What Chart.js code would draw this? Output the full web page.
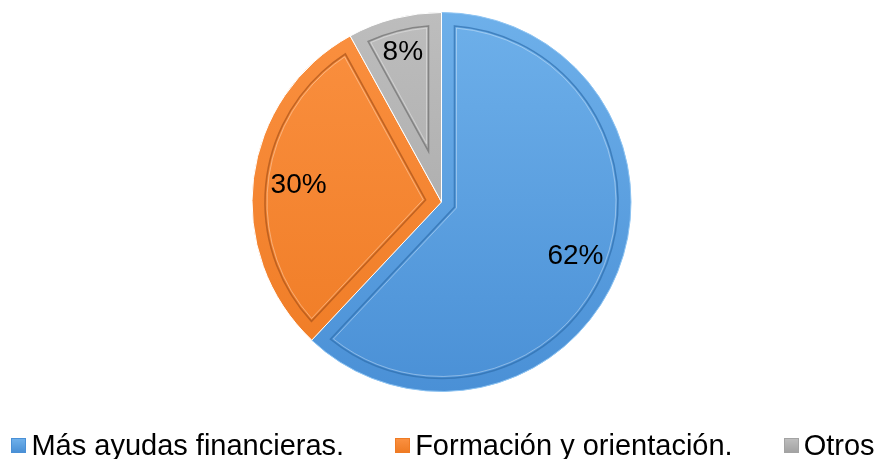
<!DOCTYPE html>
<html>
<head>
<meta charset="utf-8">
<script src="https://cdn.jsdelivr.net/npm/chart.js@4/dist/chart.umd.min.js"></script>
<style>
  html, body { margin: 0; padding: 0; background: #fff; }
  #wrap { position: relative; width: 886px; height: 459px; }
  #legend {
    position: absolute; left: 0; top: 431px; width: 886px;
    display: flex; justify-content: center;
    font-family: "Liberation Sans", Arial, sans-serif; font-size: 29px; line-height: 29px; color: #000;
    white-space: nowrap;
  }
  #legend .item { margin-right: 51px; }
  #legend .item:last-child { margin-right: 0; }
  #legend .box {
    display: inline-block; width: 15px; height: 15px; margin-right: 5px;
    vertical-align: 2px; box-sizing: border-box;
  }
</style>
</head>
<body>
<div id="wrap">
  <canvas id="pieChart" width="886" height="459"></canvas>
  <div id="legend"></div>
</div>
<script>
const labels = ["Más ayudas financieras.", "Formación y orientación.", "Otros"];
const values = [62, 30, 8]; // percentages
const topColors = ["#6eb0ea", "#fa9040", "#bdbdbd"];
const bottomColors = ["#4a90d6", "#ef7b24", "#a3a3a3"];
const edgeColors = ["#2f6fae", "#a9521a", "#6e6e6e"];

// gradient fill for each slice (light top, darker bottom)
function sliceFill(context) {
  const chart = context.chart;
  const area = chart.chartArea;
  if (!area) return topColors[context.dataIndex];
  const g = chart.ctx.createLinearGradient(0, area.top, 0, area.bottom);
  g.addColorStop(0, topColors[context.dataIndex]);
  g.addColorStop(1, bottomColors[context.dataIndex]);
  return g;
}

// inner bevel outline + percentage labels, taken from the arc elements
const bevelPlugin = {
  id: "bevel",
  afterDatasetsDraw(chart) {
    const ctx = chart.ctx;
    const meta = chart.getDatasetMeta(0);
    const d = 13;
    meta.data.forEach((arc, i) => {
      const p = arc.getProps(["x", "y", "startAngle", "endAngle", "outerRadius"], true);
      const theta = p.endAngle - p.startAngle;
      const mid = (p.startAngle + p.endAngle) / 2;
      const r = p.outerRadius - d;
      const delta = Math.asin(d / r);
      const k = d / Math.sin(theta / 2);
      const ax = p.x + Math.cos(mid) * k;
      const ay = p.y + Math.sin(mid) * k;
      ctx.save();
      ctx.beginPath();
      ctx.moveTo(ax, ay);
      ctx.arc(p.x, p.y, r, p.startAngle + delta, p.endAngle - delta);
      ctx.closePath();
      ctx.lineWidth = 1.6;
      ctx.strokeStyle = edgeColors[i];
      ctx.globalAlpha = 0.7;
      ctx.stroke();
      // light highlight just inside
      ctx.beginPath();
      const r2 = r - 2;
      const delta2 = Math.asin((d + 2) / r2);
      const k2 = (d + 2) / Math.sin(theta / 2);
      ctx.moveTo(p.x + Math.cos(mid) * k2, p.y + Math.sin(mid) * k2);
      ctx.arc(p.x, p.y, r2, p.startAngle + delta2, p.endAngle - delta2);
      ctx.closePath();
      ctx.lineWidth = 1;
      ctx.strokeStyle = "rgba(255,255,255,0.35)";
      ctx.globalAlpha = 1;
      ctx.stroke();
      ctx.restore();

      // label
      const frac = values[i] < 10 ? 0.82 : 0.76;
      const lx = p.x + Math.cos(mid) * p.outerRadius * frac;
      const ly = p.y + Math.sin(mid) * p.outerRadius * frac;
      ctx.save();
      ctx.font = '28px "Liberation Sans", Arial, sans-serif';
      ctx.fillStyle = "#000";
      ctx.textAlign = "center";
      ctx.textBaseline = "middle";
      ctx.fillText(values[i] + "%", lx, ly + 1);
      ctx.restore();
    });
  }
};

const ctx = document.getElementById("pieChart").getContext("2d");
new Chart(ctx, {
  type: "pie",
  data: {
    labels: labels,
    datasets: [{
      data: values,
      backgroundColor: sliceFill,
      borderColor: ["#8cc3f2", "#ffffff", "#ffffff"],
      borderWidth: 1
    }]
  },
  options: {
    responsive: false,
    animation: false,
    layout: { padding: { top: 12, bottom: 67, left: 0, right: 3 } },
    plugins: {
      legend: { display: false },
      tooltip: { enabled: false }
    }
  },
  plugins: [bevelPlugin]
});

// legend below the pie
const legend = document.getElementById("legend");
labels.forEach((text, i) => {
  const item = document.createElement("span");
  item.className = "item";
  const box = document.createElement("span");
  box.className = "box";
  box.style.background = "linear-gradient(" + topColors[i] + ", " + bottomColors[i] + ")";
  box.style.border = "1px solid " + bottomColors[i];
  item.appendChild(box);
  item.appendChild(document.createTextNode(text));
  legend.appendChild(item);
});
</script>
</body>
</html>
